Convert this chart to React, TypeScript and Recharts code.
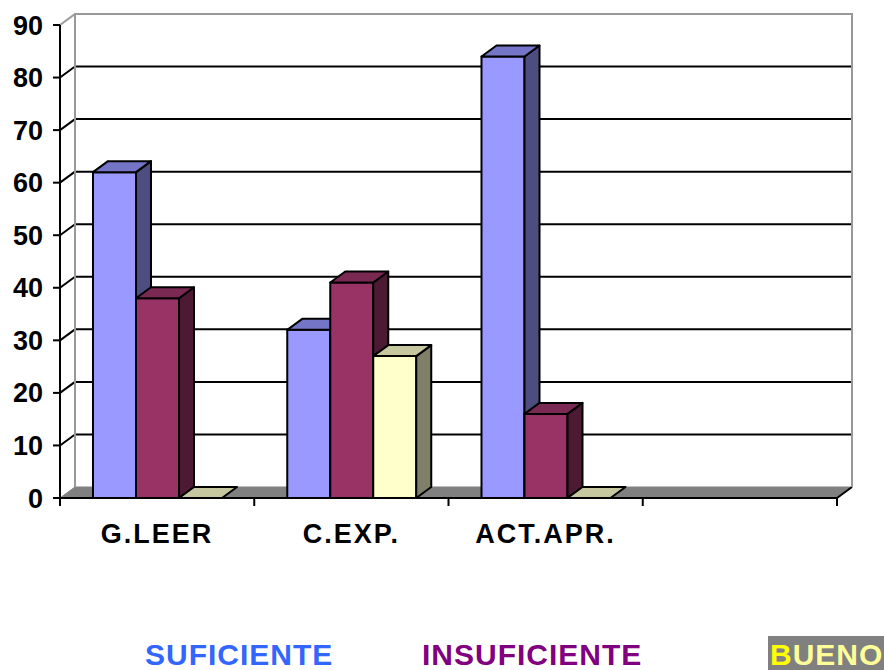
import { Bar, BarChart, CartesianGrid, XAxis, YAxis } from 'recharts';

const categories = ['G.LEER', 'C.EXP.', 'ACT.APR.', ''];
const suficiente = [62, 32, 84, null];
const insuficiente = [38, 41, 16, null];
const bueno = [0, 27, 0, null];
const yTicks = [0, 10, 20, 30, 40, 50, 60, 70, 80, 90];

const data = categories.map((name, i) => ({
  name,
  suficiente: suficiente[i],
  insuficiente: insuficiente[i],
  bueno: bueno[i],
}));

const FONT = '"Liberation Sans", Arial, sans-serif';
const W = 884;
const H = 560;
const PLOT_LEFT = 60;
const PLOT_TOP = 25;
const PLOT_BOTTOM = 498;
const PLOT_RIGHT = 837;
const BAND = (PLOT_RIGHT - PLOT_LEFT) / categories.length;
// depth offset of the 3d look
const DX = 15;
const DY = -11;

const bar3d = (key, front, top, side) => (props) => {
  const { x, y, width, height, payload } = props;
  if (payload == null || payload[key] == null) return null;
  const r = x + width;
  const b = y + height;
  return (
    <g stroke="#000" strokeWidth={2} strokeLinejoin="round">
      {height > 0.5 && <rect x={x} y={y} width={width} height={height} fill={front} />}
      {height > 0.5 && (
        <polygon points={`${r},${y} ${r + DX},${y + DY} ${r + DX},${b + DY} ${r},${b}`} fill={side} />
      )}
      <polygon points={`${x},${y} ${x + DX},${y + DY} ${r + DX},${y + DY} ${r},${y}`} fill={top} />
    </g>
  );
};

const gridLine = (p) => {
  const { x1, x2, y1 } = p;
  if (Math.abs(y1 - PLOT_BOTTOM) < 1) {
    // floor
    return (
      <g key={`g-${y1}`}>
        <polygon
          points={`${x1},${y1} ${x1 + DX},${y1 + DY} ${x2 + DX},${y1 + DY} ${x2},${y1}`}
          fill="#808080"
          stroke="#808080"
          strokeWidth={1}
        />
        <line x1={x2} y1={y1} x2={x2 + DX} y2={y1 + DY} stroke="#000" strokeWidth={2} />
      </g>
    );
  }
  if (Math.abs(y1 - PLOT_TOP) < 1) {
    // top edge and the side edges of the back wall
    return (
      <g key={`g-${y1}`} stroke="#999" strokeWidth={2} fill="none">
        <polyline
          points={`${x1},${y1} ${x1 + DX},${y1 + DY} ${x2 + DX},${y1 + DY} ${x2 + DX},${PLOT_BOTTOM + DY}`}
        />
        <line x1={x1 + DX} y1={y1 + DY} x2={x1 + DX} y2={PLOT_BOTTOM + DY} />
      </g>
    );
  }
  return (
    <g key={`g-${y1}`} stroke="#000" strokeWidth={2}>
      <line x1={x1} y1={y1} x2={x1 + DX} y2={y1 + DY} />
      <line x1={x1 + DX} y1={y1 + DY} x2={x2 + DX} y2={y1 + DY} />
    </g>
  );
};

const XTick = (props) => {
  const { x, payload, index } = props;
  const left = x - BAND / 2;
  return (
    <g>
      <line x1={left} y1={PLOT_BOTTOM} x2={left} y2={PLOT_BOTTOM + 8} stroke="#000" strokeWidth={2} />
      {index === categories.length - 1 && (
        <line x1={x + BAND / 2} y1={PLOT_BOTTOM} x2={x + BAND / 2} y2={PLOT_BOTTOM + 8} stroke="#000" strokeWidth={2} />
      )}
      <text
        x={x}
        y={PLOT_BOTTOM + 45}
        textAnchor="middle"
        fontFamily={FONT}
        fontWeight="bold"
        fontSize={27}
        letterSpacing={2}
        fill="#000"
      >
        {payload.value}
      </text>
    </g>
  );
};

const legendItems = [
  { label: 'SUFICIENTE', x: 145 },
  { label: 'INSUFICIENTE', x: 422 },
];

export default function App() {
  return (
    <div style={{ position: 'absolute', left: 0, top: 0, width: W, height: 670, background: '#fff' }}>
      <BarChart
        width={W}
        height={H}
        data={data}
        margin={{ top: PLOT_TOP, right: W - PLOT_RIGHT, left: 10, bottom: H - PLOT_BOTTOM - 40 }}
        barCategoryGap={33}
        barGap={0}
      >
        <CartesianGrid vertical={false} horizontal={gridLine} />
        <XAxis
          dataKey="name"
          height={40}
          interval={0}
          axisLine={{ stroke: '#000', strokeWidth: 2 }}
          tickLine={false}
          tick={<XTick />}
        />
        <YAxis
          type="number"
          width={50}
          domain={[0, 90]}
          ticks={yTicks}
          interval={0}
          axisLine={{ stroke: '#000', strokeWidth: 2 }}
          tickLine={{ stroke: '#000', strokeWidth: 2 }}
          tickSize={7}
          tickMargin={10}
          tick={{ fill: '#000', fontFamily: FONT, fontWeight: 'bold', fontSize: 27 }}
        />
        <Bar dataKey="suficiente" isAnimationActive={false} shape={bar3d('suficiente', '#9999FF', '#7575C8', '#4D4D80')} />
        <Bar dataKey="insuficiente" isAnimationActive={false} shape={bar3d('insuficiente', '#993366', '#7A2952', '#4D1A33')} />
        <Bar dataKey="bueno" isAnimationActive={false} shape={bar3d('bueno', '#FFFFCC', '#C8C8A0', '#80806A')} />
      </BarChart>
      <svg width={W} height={670 - H} style={{ position: 'absolute', left: 0, top: H }}>
        {legendItems.map((it, i) => (
          <text
            key={it.label}
            x={it.x}
            y={665 - H}
            fontFamily={FONT}
            fontWeight="bold"
            fontSize={30}
            letterSpacing={1}
            fill={i === 0 ? '#3366FF' : '#800080'}
          >
            {it.label}
          </text>
        ))}
        <rect x={768} y={636 - H} width={116} height={34} fill="#808080" />
        <text x={770} y={665 - H} fontFamily={FONT} fontWeight="bold" fontSize={30} letterSpacing={1}>
          <tspan fill="#FFFF00">B</tspan>
          <tspan fill="#FFFF99">UENO</tspan>
        </text>
      </svg>
    </div>
  );
}
